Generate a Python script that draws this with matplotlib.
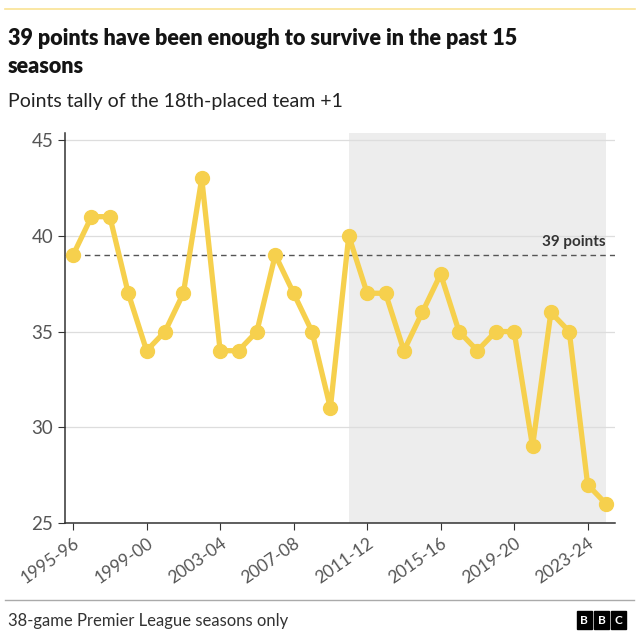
import matplotlib
matplotlib.use("Agg")
import matplotlib.pyplot as plt
from matplotlib.lines import Line2D
import numpy as np

plt.rcParams["font.family"] = ["Lato", "DejaVu Sans"]

seasons = [
    "1995-96", "1996-97", "1997-98", "1998-99", "1999-00", "2000-01",
    "2001-02", "2002-03", "2003-04", "2004-05", "2005-06", "2006-07",
    "2007-08", "2008-09", "2009-10", "2010-11", "2011-12", "2012-13",
    "2013-14", "2014-15", "2015-16", "2016-17", "2017-18", "2018-19",
    "2019-20", "2020-21", "2021-22", "2022-23", "2023-24", "2024-25",
]
points = [
    39, 41, 41, 37, 34, 35, 37, 43, 34, 34, 35, 39, 37, 35, 31,
    40, 37, 37, 34, 36, 38, 35, 34, 35, 35, 29, 36, 35, 27, 26,
]
threshold = 39
shade_from = "2010-11"
yticks = [25, 30, 35, 40, 45]

YELLOW = "#f6d04d"
GREY_TXT = "#555555"

x = np.arange(len(seasons))

fig = plt.figure(figsize=(6.4, 6.4), dpi=100)
ax = fig.add_axes([0.1016, 0.1828, 0.8594, 0.6094])

# shaded "past 15 seasons" block
ax.axvspan(seasons.index(shade_from), x[-1], color="#ededed", zorder=0, lw=0)

ax.set_yticks(yticks)
ax.yaxis.grid(True, color="#dddddd", lw=0.9, zorder=1)
ax.axhline(threshold, color="#555555", lw=1, ls=(0, (4, 3)), zorder=2)
ax.text(x[-1], threshold + 0.3, f"{threshold} points", ha="right", va="bottom",
        fontsize=11, fontweight="bold", color="#333333", zorder=3)

ax.plot(x, points, color=YELLOW, lw=3.8, marker="o", ms=10,
        solid_joinstyle="round", zorder=4, clip_on=False)

ax.set_xlim(-0.44, 29.49)
ax.set_ylim(25, 45.37)

ax.set_xticks(x[::4])
ax.set_xticklabels(seasons[::4], rotation=35, ha="right",
                   rotation_mode="anchor", fontsize=12.5, color=GREY_TXT)
ax.tick_params(axis="y", labelsize=13.5, labelcolor=GREY_TXT, length=5,
               color="#333333")
ax.tick_params(axis="x", length=5, color="#333333")
ax.set_yticklabels([str(v) for v in yticks])

for side in ("top", "right"):
    ax.spines[side].set_visible(False)
for side in ("left", "bottom"):
    ax.spines[side].set_color("#333333")
    ax.spines[side].set_linewidth(1.1)

# titles
fig.add_artist(Line2D([0.008, 0.992], [0.986, 0.986], color=YELLOW, lw=1.2,
                      alpha=0.6))
fig.text(0.012, 0.956, "39 points have been enough to survive in the past 15\nseasons",
         fontsize=15.5, fontweight="heavy", color="#141414", va="top",
         linespacing=1.38)
fig.text(0.012, 0.842, "Points tally of the 18th-placed team +1",
         fontsize=14, color="#222222", va="center")

# footer
fig.add_artist(Line2D([0.008, 0.99], [0.063, 0.063], color="#aaaaaa", lw=1))
fig.text(0.012, 0.03, "38-game Premier League seasons only",
         fontsize=12, color="#333333", va="center")
for i, ch in enumerate("BBC"):
    fig.text(0.913 + i * 0.027, 0.031, ch, fontsize=8.5, fontweight="bold",
             color="white", ha="center", va="center",
             bbox=dict(boxstyle="square,pad=0.3", fc="black", ec="black"))

fig.savefig("out.png", dpi=100)
